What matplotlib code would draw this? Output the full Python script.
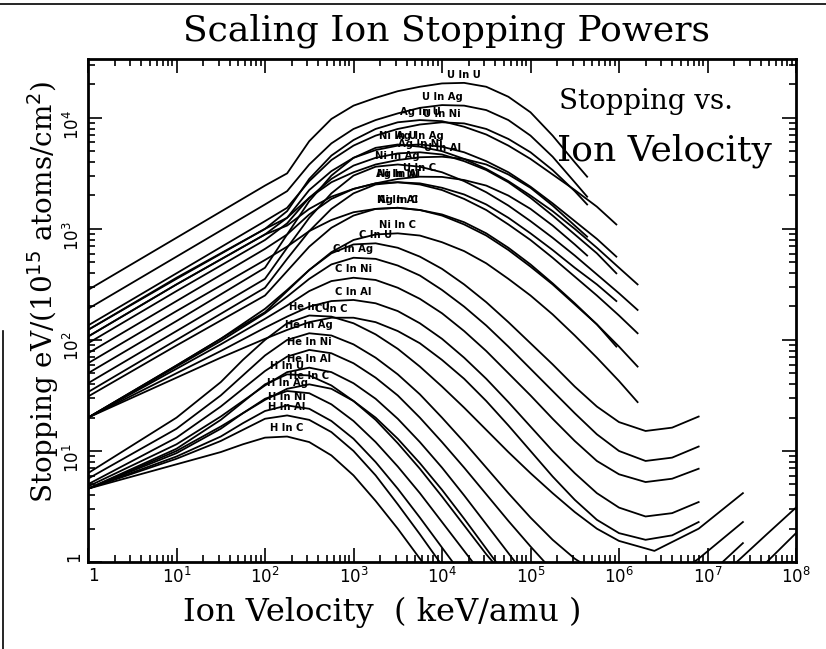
import numpy as np
import matplotlib
matplotlib.use("Agg")
import matplotlib.pyplot as plt
import matplotlib.lines as mlines
from matplotlib.ticker import FixedLocator, FuncFormatter, NullFormatter

# values, as log10(keV/amu) and log10(eV/(1e15 atoms/cm2))
nan = np.nan

logE_U = [0, 1, 2, 2.25, 2.5, 2.75, 3.0, 3.25, 3.5, 3.75, 4.0, 4.25, 4.5, 4.75, 5.0, 5.25, 5.5, 5.64]
U_ion = {
    "U":  [2.45, 2.92, 3.39, 3.50, 3.79, 3.99, 4.11, 4.18, 4.24, 4.28, 4.31, 4.315, 4.28, 4.19, 4.05, 3.84, 3.60, 3.47],
    "Ag": [2.28, 2.75, 3.22, 3.34, 3.58, 3.77, 3.90, 3.98, 4.04, 4.09, 4.115, 4.11, 4.07, 3.98, 3.84, 3.65, 3.42, 3.29],
    "Ni": [2.13, 2.60, 3.07, 3.19, 3.43, 3.62, 3.75, 3.84, 3.90, 3.94, 3.96, 3.95, 3.90, 3.81, 3.69, 3.53, 3.34, 3.22],
    "Al": [2.09, 2.55, 3.00, 3.10, 3.28, 3.42, 3.51, 3.58, 3.62, 3.645, 3.65, 3.63, 3.58, 3.49, 3.37, 3.21, 3.03, 2.93],
    "C":  [2.03, 2.50, 2.95, 3.03, 3.18, 3.29, 3.36, 3.41, 3.45, 3.47, 3.468, 3.44, 3.39, 3.30, 3.18, 3.03, 2.86, 2.76],
}

logE_Ag = [0, 1, 2, 2.25, 2.5, 2.75, 3.0, 3.25, 3.5, 3.75, 4.0, 4.25, 4.5, 4.75, 5.0, 5.25, 5.5, 5.75, 5.97]
Ag_ion = {
    "U":  [2.09, 2.56, 3.00, 3.16, 3.45, 3.66, 3.80, 3.90, 3.96, 3.98, 3.97, 3.92, 3.85, 3.75, 3.63, 3.49, 3.35, 3.20, 3.04],
    "Ag": [2.03, 2.50, 2.95, 3.10, 3.35, 3.52, 3.64, 3.71, 3.75, 3.76, 3.74, 3.69, 3.61, 3.51, 3.38, 3.23, 3.07, 2.91, 2.75],
    "Ni": [1.97, 2.44, 2.90, 3.05, 3.28, 3.45, 3.57, 3.64, 3.68, 3.69, 3.67, 3.61, 3.53, 3.42, 3.28, 3.12, 2.95, 2.78, 2.60],
    "Al": [1.88, 2.35, 2.82, 2.95, 3.13, 3.27, 3.36, 3.41, 3.42, 3.41, 3.37, 3.31, 3.22, 3.10, 2.96, 2.81, 2.65, 2.50, 2.35],
    "C":  [1.79, 2.26, 2.72, 2.84, 2.98, 3.08, 3.15, 3.18, 3.19, 3.17, 3.13, 3.06, 2.96, 2.83, 2.68, 2.51, 2.33, 2.14, 1.94],
}

logE_Ni = [0, 1, 2, 2.25, 2.5, 2.75, 3.0, 3.25, 3.5, 3.75, 4.0, 4.25, 4.5, 4.75, 5.0, 5.25, 5.5, 5.75, 6.0, 6.21]
Ni_ion = {
    "U":  [1.70, 2.17, 2.65, 2.95, 3.25, 3.48, 3.64, 3.73, 3.76, 3.74, 3.70, 3.63, 3.54, 3.43, 3.30, 3.16, 3.00, 2.83, 2.65, 2.50],
    "Ag": [1.61, 2.08, 2.55, 2.83, 3.10, 3.32, 3.48, 3.56, 3.58, 3.56, 3.51, 3.43, 3.33, 3.21, 3.07, 2.92, 2.76, 2.59, 2.42, 2.27],
    "Ni": [1.53, 2.00, 2.47, 2.73, 2.98, 3.18, 3.32, 3.40, 3.42, 3.40, 3.35, 3.27, 3.17, 3.04, 2.90, 2.74, 2.57, 2.40, 2.22, 2.06],
    "Al": [1.49, 1.95, 2.40, 2.62, 2.84, 3.01, 3.12, 3.18, 3.19, 3.17, 3.12, 3.04, 2.94, 2.81, 2.66, 2.50, 2.32, 2.14, 1.94, 1.76],
    "C":  [1.30, 1.77, 2.25, 2.44, 2.63, 2.79, 2.90, 2.95, 2.96, 2.94, 2.88, 2.80, 2.69, 2.55, 2.40, 2.23, 2.04, 1.84, 1.63, 1.44],
}

logE_C = [0, 1, 1.5, 2.0, 2.25, 2.5, 2.75, 3.0, 3.25, 3.5, 3.75, 4.0, 4.25, 4.5, 4.75, 5.0, 5.25, 5.5, 5.75, 6.0, 6.3, 6.6, 6.9]
C_ion = {
    "U":  [1.30, 1.77, 2.01, 2.28, 2.45, 2.63, 2.78, 2.86, 2.87, 2.83, 2.75, 2.64, 2.50, 2.34, 2.16, 1.97, 1.78, 1.58, 1.40, 1.26, 1.18, 1.21, 1.31],
    "Ag": [1.30, 1.76, 1.99, 2.24, 2.39, 2.55, 2.68, 2.74, 2.73, 2.67, 2.58, 2.45, 2.30, 2.13, 1.94, 1.74, 1.54, 1.34, 1.15, 1.00, 0.91, 0.94, 1.04],
    "Ni": [1.30, 1.74, 1.96, 2.19, 2.31, 2.44, 2.53, 2.56, 2.54, 2.47, 2.37, 2.24, 2.08, 1.90, 1.70, 1.50, 1.29, 1.09, 0.91, 0.79, 0.72, 0.75, 0.84],
    "Al": [1.30, 1.70, 1.90, 2.11, 2.21, 2.30, 2.35, 2.36, 2.33, 2.26, 2.15, 2.01, 1.84, 1.65, 1.44, 1.22, 1.00, 0.80, 0.62, 0.49, 0.41, 0.44, 0.54],
    "C":  [1.30, 1.66, 1.84, 2.01, 2.09, 2.16, 2.20, 2.20, 2.16, 2.08, 1.97, 1.82, 1.65, 1.45, 1.23, 1.00, 0.77, 0.56, 0.38, 0.26, 0.20, 0.24, 0.36],
}

logE_He = [0, 1, 1.5, 1.75, 2.0, 2.25, 2.5, 2.75, 3.0, 3.25, 3.5, 3.75, 4.0, 4.25, 4.5, 4.75, 5.0, 5.25, 5.5, 5.75, 6.0, 6.4, 6.9, 7.4]
He_ion = {
    "U":  [0.80, 1.30, 1.62, 1.82, 2.00, 2.15, 2.22, 2.21, 2.15, 2.05, 1.92, 1.76, 1.58, 1.39, 1.19, 0.99, 0.80, 0.62, 0.45, 0.30, 0.19, 0.10, 0.30, 0.62],
    "Ag": [0.75, 1.20, 1.50, 1.68, 1.86, 2.00, 2.06, 2.04, 1.96, 1.84, 1.69, 1.51, 1.30, 1.08, 0.85, 0.62, 0.40, 0.20, 0.03, -0.10, -0.20, -0.25, 0.03, 0.36],
    "Ni": [0.70, 1.12, 1.40, 1.56, 1.72, 1.85, 1.91, 1.88, 1.79, 1.66, 1.50, 1.30, 1.08, 0.85, 0.61, 0.37, 0.14, -0.08, -0.28, -0.42, -0.50, -0.50, -0.20, 0.17],
    "Al": [0.68, 1.06, 1.31, 1.45, 1.59, 1.71, 1.75, 1.71, 1.61, 1.47, 1.29, 1.08, 0.85, 0.60, 0.34, 0.08, -0.18, -0.42, nan, nan, nan, nan, nan, nan],
    "C":  [0.66, 1.00, 1.22, 1.34, 1.46, 1.56, 1.60, 1.56, 1.45, 1.30, 1.11, 0.89, 0.65, 0.39, 0.12, -0.15, -0.40, nan, nan, nan, nan, nan, nan, nan],
}

logE_H = [0, 1, 1.5, 1.75, 2.0, 2.25, 2.5, 2.75, 3.0, 3.25, 3.5, 3.75, 4.0, 4.25, 4.5, 5.0, 6.0, 7.0, 7.33, 7.67, 8.0]
H_ion = {
    "U":  [0.66, 1.02, 1.28, 1.44, 1.60, 1.69, 1.68, 1.59, 1.45, 1.28, 1.07, 0.84, 0.59, 0.33, 0.07, -0.40, -0.70, -0.25, 0.00, 0.25, 0.49],
    "Ag": [0.66, 0.98, 1.20, 1.34, 1.47, 1.54, 1.52, 1.42, 1.27, 1.08, 0.86, 0.62, 0.36, 0.10, -0.16, -0.60, -0.90, -0.45, -0.22, 0.00, 0.26],
    "Ni": [0.66, 0.95, 1.13, 1.25, 1.36, 1.41, 1.38, 1.27, 1.11, 0.90, 0.66, 0.40, 0.13, -0.14, -0.40, nan, nan, nan, nan, nan, nan],
    "Al": [0.66, 0.93, 1.09, 1.19, 1.29, 1.32, 1.28, 1.17, 1.00, 0.78, 0.52, 0.25, -0.03, -0.30, nan, nan, nan, nan, nan, nan, nan],
    "C":  [0.66, 0.88, 0.99, 1.06, 1.12, 1.13, 1.08, 0.96, 0.78, 0.55, 0.30, 0.03, -0.24, nan, nan, nan, nan, nan, nan, nan, nan],
}

ions = [("U", logE_U, U_ion), ("Ag", logE_Ag, Ag_ion), ("Ni", logE_Ni, Ni_ion),
        ("C", logE_C, C_ion), ("He", logE_He, He_ion), ("H", logE_H, H_ion)]

fig = plt.figure(figsize=(8.26, 6.49), dpi=100)
ax = fig.add_axes([88/826, 1-562/649, (796-88)/826, (562-59)/649])

for ion, lx, curves in ions:
    E = 10 ** np.array(lx, dtype=float)
    for tgt, ly in curves.items():
        S = 10 ** np.array(ly, dtype=float)
        ax.plot(E, S, color="black", lw=1.3)
        i = int(np.nanargmax(ly))
        ax.text(E[i], S[i]*1.07, ion + " In " + tgt, fontsize=7.2, fontweight="bold",
                ha="center", va="bottom", family="DejaVu Sans")

ax.set_xscale("log")
ax.set_yscale("log")
ax.set_xlim(1, 1e8)
ax.set_ylim(1, 10**4.53)

def fmt(v, pos):
    n = int(round(np.log10(v)))
    return "1" if n == 0 else r"$10^{%d}$" % n

xmaj = [10.0**k for k in range(0, 9)]
ymaj = [10.0**k for k in range(0, 5)]
minors = [m * 10.0**k for k in range(0, 8) for m in range(2, 10)]
ax.xaxis.set_major_locator(FixedLocator(xmaj))
ax.yaxis.set_major_locator(FixedLocator(ymaj))
ax.xaxis.set_minor_locator(FixedLocator(minors))
ax.yaxis.set_minor_locator(FixedLocator([v for v in minors if v < 3.4e4]))
for axis in (ax.xaxis, ax.yaxis):
    axis.set_major_formatter(FuncFormatter(fmt))
    axis.set_minor_formatter(NullFormatter())

ax.tick_params(which="both", direction="in", top=True, right=True, width=1.2)
ax.tick_params(which="major", length=10, labelsize=12)
ax.tick_params(which="minor", length=5)
ax.tick_params(axis="y", labelrotation=90)
for sp in ax.spines.values():
    sp.set_linewidth(2)
ax.get_xticklabels()[0].set_horizontalalignment("left")
ax.get_yticklabels()[0].set_verticalalignment("bottom")

fig.text(0.54, 0.952, "Scaling Ion Stopping Powers", family="DejaVu Serif",
         fontsize=26, ha="center", va="center")
fig.text(0.463, 0.056, "Ion Velocity  ( keV/amu )", family="DejaVu Serif",
         fontsize=23, ha="center", va="center")
fig.text(0.052, 0.55, r"Stopping eV/(10$^{15}$ atoms/cm$^2$)", family="DejaVu Serif",
         fontsize=20, ha="center", va="center", rotation=90)
ax.text(0.665, 0.915, "Stopping vs.", transform=ax.transAxes, family="DejaVu Serif",
        fontsize=20, ha="left", va="center")
ax.text(0.663, 0.818, "Ion Velocity", transform=ax.transAxes, family="DejaVu Serif",
        fontsize=26, ha="left", va="center")

# scan border lines seen at the top and left edges of the page
fig.add_artist(mlines.Line2D([0, 1], [0.994, 0.994], transform=fig.transFigure,
                             color="black", lw=1.2))
fig.add_artist(mlines.Line2D([0.004, 0.004], [0, 0.49], transform=fig.transFigure,
                             color="black", lw=1.2))

fig.savefig("out.png", dpi=100)
